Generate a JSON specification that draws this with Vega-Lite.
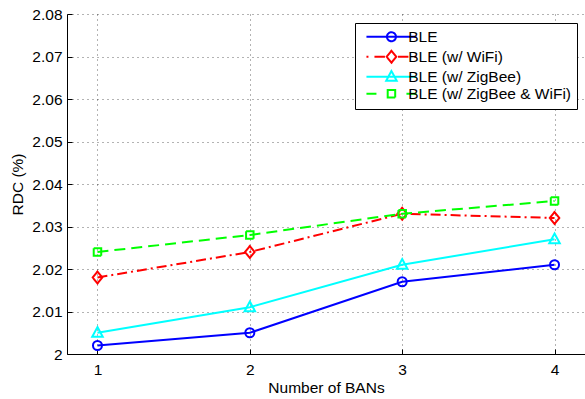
{
  "$schema": "https://vega.github.io/schema/vega-lite/v6.json",
  "autosize": {"type": "none"},
  "width": 518,
  "height": 340,
  "padding": {"left": 67, "top": 14, "right": 0, "bottom": 45},
  "background": "white",
  "data": {
    "values": [
      {"bans": 1, "rdc": 2.002, "series": "BLE"},
      {"bans": 2, "rdc": 2.005, "series": "BLE"},
      {"bans": 3, "rdc": 2.017, "series": "BLE"},
      {"bans": 4, "rdc": 2.021, "series": "BLE"},
      {"bans": 1, "rdc": 2.018, "series": "BLE (w/ WiFi)"},
      {"bans": 2, "rdc": 2.024, "series": "BLE (w/ WiFi)"},
      {"bans": 3, "rdc": 2.033, "series": "BLE (w/ WiFi)"},
      {"bans": 4, "rdc": 2.032, "series": "BLE (w/ WiFi)"},
      {"bans": 1, "rdc": 2.005, "series": "BLE (w/ ZigBee)"},
      {"bans": 2, "rdc": 2.011, "series": "BLE (w/ ZigBee)"},
      {"bans": 3, "rdc": 2.021, "series": "BLE (w/ ZigBee)"},
      {"bans": 4, "rdc": 2.027, "series": "BLE (w/ ZigBee)"},
      {"bans": 1, "rdc": 2.024, "series": "BLE (w/ ZigBee & WiFi)"},
      {"bans": 2, "rdc": 2.028, "series": "BLE (w/ ZigBee & WiFi)"},
      {"bans": 3, "rdc": 2.033, "series": "BLE (w/ ZigBee & WiFi)"},
      {"bans": 4, "rdc": 2.036, "series": "BLE (w/ ZigBee & WiFi)"}
    ]
  },
  "encoding": {
    "x": {
      "field": "bans", "type": "quantitative",
      "scale": {"domain": [0.8, 4.2], "nice": false, "zero": false},
      "axis": {"values": [1, 2, 3, 4], "format": "d", "title": "Number of BANs", "labelPadding": 13, "titlePadding": 3}
    },
    "y": {
      "field": "rdc", "type": "quantitative",
      "scale": {"domain": [2, 2.08], "nice": false, "zero": false},
      "axis": {"values": [2, 2.01, 2.02, 2.03, 2.04, 2.05, 2.06, 2.07, 2.08], "format": "~g", "title": "RDC (%)", "labelPadding": 10, "titlePadding": 6}
    },
    "color": {
      "field": "series", "type": "nominal",
      "scale": {"domain": ["BLE", "BLE (w/ WiFi)", "BLE (w/ ZigBee)", "BLE (w/ ZigBee & WiFi)"], "range": ["#0000ff", "#ff0000", "#00ffff", "#00ff00"]},
      "legend": {
        "orient": "none", "legendX": 288, "legendY": 9, "title": null,
        "fillColor": "white", "strokeColor": "black", "padding": 6, "rowPadding": 0,
        "labelFont": "Liberation Sans", "labelFontSize": 15.5, "labelColor": "black", "labelLimit": 400,
        "symbolOffset": 22.7, "labelOffset": 9, "symbolStrokeWidth": 2, "symbolSize": 100,
        "encode": {
          "symbols": {
            "update": {
              "shape": {"signal": "datum.value === 'BLE' ? 'M-5,0H5M-0.9,0A0.9,0.9 0 1,1 0.9,0A0.9,0.9 0 1,1 -0.9,0Z' : datum.value === 'BLE (w/ WiFi)' ? 'M-5,0H-4.6M-3.4,0H-1.3M1.3,0H3.4M4.6,0H5M0,-1.2L0.95,0L0,1.2L-0.95,0Z' : datum.value === 'BLE (w/ ZigBee)' ? 'M-5,0H5M0,-1.15L1.05,0.8L-1.05,0.8Z' : 'M-5,0H-3M3,0H5M-0.75,-0.75H0.75V0.75H-0.75Z'"},
              "size": {"value": 100},
              "strokeDash": {"value": [1, 0]},
              "strokeWidth": {"value": 2},
              "fill": {"value": "transparent"}
            }
          }
        }
      }
    }
  },
  "layer": [
    {
      "transform": [{"filter": "datum.series === 'BLE'"}],
      "mark": {"type": "line", "strokeWidth": 2, "point": {"filled": false, "strokeWidth": 2, "size": 100, "shape": "M-0.9,0A0.9,0.9 0 1,1 0.9,0A0.9,0.9 0 1,1 -0.9,0Z"}}
    },
    {
      "transform": [{"filter": "datum.series === 'BLE (w/ WiFi)'"}],
      "mark": {"type": "line", "strokeWidth": 2, "strokeDash": [10, 4, 2, 4], "point": {"filled": false, "strokeWidth": 2, "size": 100, "strokeDash": [1, 0], "shape": "M0,-1.2L0.95,0L0,1.2L-0.95,0Z"}}
    },
    {
      "transform": [{"filter": "datum.series === 'BLE (w/ ZigBee)'"}],
      "mark": {"type": "line", "strokeWidth": 2, "point": {"filled": false, "strokeWidth": 2, "size": 100, "shape": "M0,-1.15L1.05,0.8L-1.05,0.8Z"}}
    },
    {
      "transform": [{"filter": "datum.series === 'BLE (w/ ZigBee & WiFi)'"}],
      "mark": {"type": "line", "strokeWidth": 2, "strokeDash": [11, 6], "point": {"filled": false, "strokeWidth": 2, "size": 100, "strokeDash": [1, 0], "shape": "M-0.75,-0.75H0.75V0.75H-0.75Z"}}
    }
  ],
  "config": {
    "view": {"stroke": null},
    "axis": {
      "domainColor": "#000", "domainWidth": 1, "tickColor": "#000", "tickSize": -5, "tickWidth": 1,
      "labelColor": "#000", "titleColor": "#000",
      "labelFont": "Liberation Sans", "titleFont": "Liberation Sans",
      "labelFontSize": 15.5, "titleFontSize": 15.5, "titleFontWeight": "normal",
      "grid": true, "gridColor": "#000", "gridDash": [1, 4], "gridOpacity": 0.6, "gridWidth": 1
    }
  }
}
